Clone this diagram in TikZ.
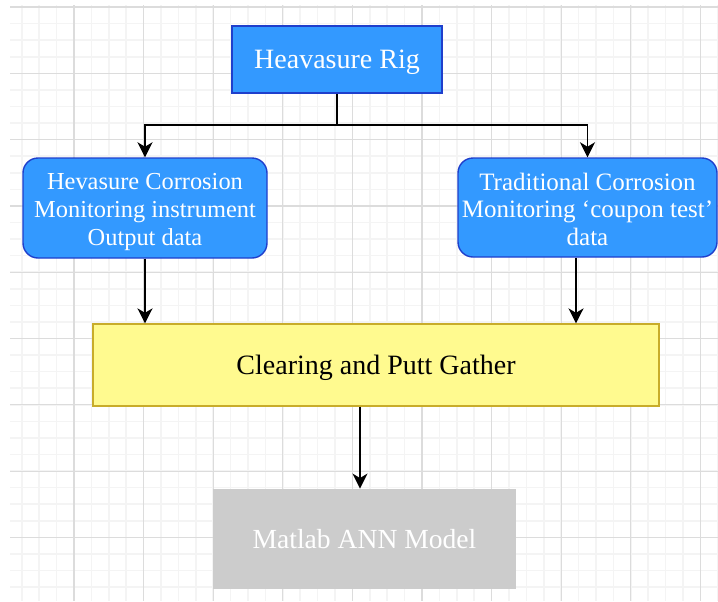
\documentclass[tikz,border=0pt]{standalone}
\usepackage{fontspec}
\setmainfont{Liberation Serif}
\usetikzlibrary{arrows.meta}
\definecolor{rigblue}{HTML}{3399FF}
\definecolor{rigedge}{HTML}{1F3FCC}
\definecolor{gatherfill}{HTML}{FFFA8F}
\definecolor{gatheredge}{HTML}{C8AC2A}
\definecolor{annfill}{HTML}{CCCCCC}
\definecolor{gridminor}{HTML}{F4F4F4}
\definecolor{gridmajor}{HTML}{DCDCDC}
\tikzset{
  bluebox/.style={draw=rigedge, line width=0.7pt, fill=rigblue, text=white,
    align=center, inner sep=0pt},
  flow/.style={-{Stealth[length=7.5pt,width=7.5pt,inset=2.2pt]}, line width=0.9pt},
}

\begin{document}
\begin{tikzpicture}[x=0.5pt,y=-0.5pt]
\useasboundingbox (0,0) rectangle (718,601);
% background grid
\foreach \i in {0,...,40} {
  \draw[gridminor, line width=0.8pt] ({21.8+\i*17.4},5) -- ({21.8+\i*17.4},601);
}
\foreach \j in {0,...,35} {
  \draw[gridminor, line width=0.8pt] (10,{7+\j*16.575}) -- (718,{7+\j*16.575});
}
\foreach \k in {0,...,9} {
  \draw[gridmajor, line width=0.6pt] ({74+\k*69.6},5) -- ({74+\k*69.6},601);
}
\foreach \k in {0,...,8} {
  \draw[gridmajor, line width=0.6pt] (10,{7+\k*66.3}) -- (718,{7+\k*66.3});
}
%
\node[bluebox, minimum width=105pt, minimum height=33.5pt, text depth=0pt,
  font=\fontsize{14}{17}\selectfont] (rig) at (337,59.5) {Heavasure Rig};
%
\node[bluebox, rounded corners=7.5pt, minimum width=122pt, minimum height=50pt,
  font=\fontsize{12.2}{14}\selectfont] (hcm) at (145,208) {%
  \rule{0pt}{12pt}Hevasure Corrosion\\Monitoring instrument\\Output data};
%
\node[bluebox, rounded corners=7.5pt, minimum width=129.5pt, minimum height=49.5pt,
  font=\fontsize{12.5}{13.6}\selectfont] (tcm) at (587.5,207.5) {%
  \rule{0pt}{10.5pt}Traditional Corrosion\\Monitoring ‘coupon test’\\data};
%
\node[draw=gatheredge, line width=0.6pt, fill=gatherfill, inner sep=0pt,
  minimum width=283pt, minimum height=41pt, text depth=0pt,
  font=\fontsize{14}{16}\selectfont] (gather) at (376,365) {Clearing and Putt Gather};
%
\node[fill=annfill, text=white, inner sep=0pt, minimum width=151.5pt, minimum height=50pt,
  text depth=0pt, font=\fontsize{13.8}{16}\selectfont] (ann) at (364.5,539) {Matlab ANN Model};
%
\coordinate (split) at (337,125);
\draw[line width=0.9pt] (rig) -- (split);
\draw[flow] (split) -| (hcm);
\draw[flow] (split) -| (tcm);
\draw[flow] (hcm) -- (hcm |- gather.north);
\draw[flow] ([xshift=-5.75pt]tcm.south) -- ([xshift=-5.75pt]tcm.south |- gather.north);
\draw[flow] ([xshift=-2.25pt]ann.north |- gather.south) -- ([xshift=-2.25pt]ann.north);
\end{tikzpicture}
\end{document}
